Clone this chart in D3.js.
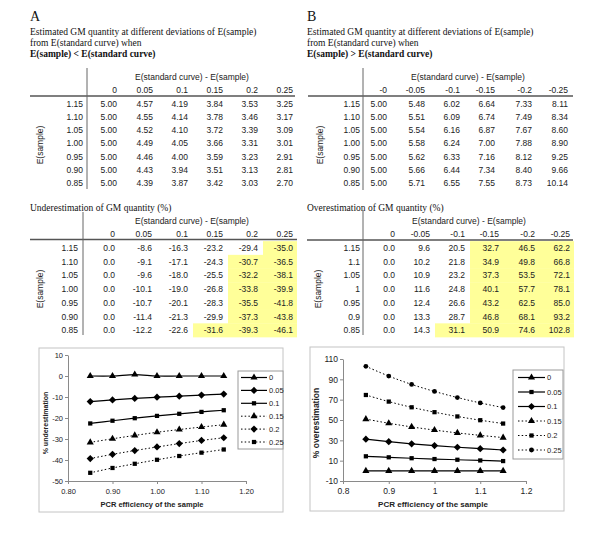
<!DOCTYPE html>
<html><head><meta charset="utf-8">
<script src="https://cdn.jsdelivr.net/npm/d3@7"></script>
<style>body{margin:0;background:#fff;} svg{display:block;}</style>
</head><body><svg id="c" width="600" height="534"></svg>
<script>
// ---------------- DATA ----------------
const rowLabelsA = ["1.15","1.10","1.05","1.00","0.95","0.90","0.85"];
const rowLabelsBOver = ["1.15","1.1","1.05","1","0.95","0.9","0.85"];
const colLabelsA = ["0","0.05","0.1","0.15","0.2","0.25"];
const colLabelsBQuant = ["-0","-0.05","-0.1","-0.15","-0.2","-0.25"];
const colLabelsBOver = ["0","-0.05","-0.1","-0.15","-0.2","-0.25"];
const legendLabels = ["0","0.05","0.1","0.15","0.2","0.25"];

const quantA = [
  [5.00,4.57,4.19,3.84,3.53,3.25],
  [5.00,4.55,4.14,3.78,3.46,3.17],
  [5.00,4.52,4.10,3.72,3.39,3.09],
  [5.00,4.49,4.05,3.66,3.31,3.01],
  [5.00,4.46,4.00,3.59,3.23,2.91],
  [5.00,4.43,3.94,3.51,3.13,2.81],
  [5.00,4.39,3.87,3.42,3.03,2.70]
];
const quantB = [
  [5.00,5.48,6.02,6.64,7.33,8.11],
  [5.00,5.51,6.09,6.74,7.49,8.34],
  [5.00,5.54,6.16,6.87,7.67,8.60],
  [5.00,5.58,6.24,7.00,7.88,8.90],
  [5.00,5.62,6.33,7.16,8.12,9.25],
  [5.00,5.66,6.44,7.34,8.40,9.66],
  [5.00,5.71,6.55,7.55,8.73,10.14]
];
const underA = [
  [0.0,-8.6,-16.3,-23.2,-29.4,-35.0],
  [0.0,-9.1,-17.1,-24.3,-30.7,-36.5],
  [0.0,-9.6,-18.0,-25.5,-32.2,-38.1],
  [0.0,-10.1,-19.0,-26.8,-33.8,-39.9],
  [0.0,-10.7,-20.1,-28.3,-35.5,-41.8],
  [0.0,-11.4,-21.3,-29.9,-37.3,-43.8],
  [0.0,-12.2,-22.6,-31.6,-39.3,-46.1]
];
const overB = [
  [0.0,9.6,20.5,32.7,46.5,62.2],
  [0.0,10.2,21.8,34.9,49.8,66.8],
  [0.0,10.9,23.2,37.3,53.5,72.1],
  [0.0,11.6,24.8,40.1,57.7,78.1],
  [0.0,12.4,26.6,43.2,62.5,85.0],
  [0.0,13.3,28.7,46.8,68.1,93.2],
  [0.0,14.3,31.1,50.9,74.6,102.8]
];
// zero-deviation line as plotted in chart A (small bump at 0.95)
const underZeroPlotted = [0,0,0,0,0.7,0,0];
const highlightThreshold = 30;
const yTicksA = [10,0,-10,-20,-30,-40,-50];
const xTicksA = [0.80,0.90,1.00,1.10,1.20];
const yTicksB = [110,90,70,50,30,10,-10];
const xTicksB = [0.8,0.9,1,1.1,1.2];

// ---------------- DRAW ----------------
const svg = d3.select("#c");
const SANS = "'Liberation Sans', Arial, sans-serif";
const SERIF = "'Liberation Serif', 'Times New Roman', serif";
const YELLOW = "#ffff99";

function serifText(x, y, txt, size, bold) {
  svg.append("text").attr("x", x).attr("y", y).attr("font-family", SERIF)
    .attr("font-size", size).attr("font-weight", bold ? "bold" : "normal")
    .attr("fill", "#111").text(txt);
}

function drawTable(cfg) {
  const g = svg.append("g");
  const rowY = i => cfg.rowY0 + i * cfg.rowStep;
  if (cfg.highlight) {
    cfg.values.forEach((row, i) => row.forEach((v, j) => {
      if (Math.abs(v) >= highlightThreshold) {
        const left = j === 0 ? cfg.colRight[0] - 30 : cfg.colRight[j - 1] + 5;
        const right = j === row.length - 1 ? cfg.colRight[j] + 4 : cfg.colRight[j] + 5;
        g.append("rect").attr("x", left).attr("y", rowY(i) - cfg.rowStep / 2)
          .attr("width", right - left).attr("height", cfg.rowStep + 0.3).attr("fill", YELLOW);
      }
    }));
  }
  const t = (x, y, s, anchor) => g.append("text").attr("x", x).attr("y", y)
    .attr("font-family", SANS).attr("font-size", 8.5).attr("fill", "#222")
    .attr("text-anchor", anchor).attr("dominant-baseline", "central").text(s);
  t(cfg.headX, cfg.headY, "E(standard curve) - E(sample)", "middle");
  cfg.cols.forEach((c, j) => t(cfg.colRight[j], cfg.colHeadY, c, "end"));
  cfg.rows.forEach((r, i) => t(cfg.labelRight, rowY(i), r, "end"));
  cfg.values.forEach((row, i) => row.forEach((v, j) =>
    t(cfg.colRight[j], rowY(i), v.toFixed(cfg.digits), "end")));
  g.append("line").attr("x1", cfg.lineX0).attr("x2", cfg.lineX1)
    .attr("y1", cfg.lineY).attr("y2", cfg.lineY).attr("stroke", "#555").attr("stroke-width", 1.3);
  g.append("line").attr("x1", cfg.vx).attr("x2", cfg.vx)
    .attr("y1", cfg.vy0).attr("y2", cfg.vy1).attr("stroke", "#666").attr("stroke-width", 1);
  g.append("text").attr("transform", `translate(${cfg.eX},${cfg.eY}) rotate(-90)`)
    .attr("font-family", SANS).attr("font-size", 8.5).attr("fill", "#222")
    .attr("text-anchor", "middle").attr("dominant-baseline", "central").text("E(sample)");
}

serifText(30, 21, "A", 14, false);
serifText(30, 35, "Estimated GM quantity at different deviations of E(sample)", 9.5);
serifText(30, 46, "from E(standard curve) when", 9.5);
serifText(30, 57, "E(sample) < E(standard curve)", 9.5, true);
serifText(307, 21, "B", 14, false);
serifText(307, 35, "Estimated GM quantity at different deviations of E(sample)", 9.5);
serifText(307, 46, "from E(standard curve) when", 9.5);
serifText(307, 57, "E(sample) > E(standard curve)", 9.5, true);
serifText(30, 211, "Underestimation of GM quantity (%)", 9.5);
serifText(307, 211, "Overestimation of GM quantity (%)", 9.5);

drawTable({values: quantA, rows: rowLabelsA, cols: colLabelsA, digits: 2,
  colRight: [117,153,188,223,258,293], rowY0: 104, rowStep: 13.15,
  headX: 192, headY: 77, colHeadY: 90, lineY: 96, lineX0: 30, lineX1: 295,
  vx: 87, vy0: 68, vy1: 189, labelRight: 83, eX: 40, eY: 145});
drawTable({values: quantB, rows: rowLabelsA, cols: colLabelsBQuant, digits: 2,
  colRight: [387,425,460,495,532,568], rowY0: 104, rowStep: 13.15,
  headX: 468, headY: 77, colHeadY: 90, lineY: 96, lineX0: 308, lineX1: 573,
  vx: 363, vy0: 68, vy1: 190, labelRight: 360, eX: 320, eY: 145});
drawTable({values: underA, rows: rowLabelsA, cols: colLabelsA, digits: 1, highlight: true,
  colRight: [115,152,188,223,258,293], rowY0: 248, rowStep: 13.7,
  headX: 192, headY: 221, colHeadY: 234, lineY: 239.5, lineX0: 30, lineX1: 297,
  vx: 83, vy0: 212, vy1: 335, labelRight: 78, eX: 40, eY: 289});
drawTable({values: overB, rows: rowLabelsBOver, cols: colLabelsBOver, digits: 1, highlight: true,
  colRight: [395,430,465,499,535,570], rowY0: 248, rowStep: 13.7,
  headX: 469, headY: 221, colHeadY: 234, lineY: 240, lineX0: 307, lineX1: 573,
  vx: 363, vy0: 210, vy1: 335, labelRight: 360, eX: 318, eY: 289});

// ---------------- CHARTS ----------------
const diamond = {draw(ctx, size) { const r = Math.sqrt(size / 2);
  ctx.moveTo(0, -r); ctx.lineTo(r, 0); ctx.lineTo(0, r); ctx.lineTo(-r, 0); ctx.closePath(); }};
const symMap = {triangle: d3.symbolTriangle, square: d3.symbolSquare, diamond: diamond, circle: d3.symbolCircle};
const symSize = {triangle: 22, square: 18, diamond: 26, circle: 18};

function drawChart(cfg) {
  const g = svg.append("g");
  g.append("rect").attr("x", cfg.box[0]).attr("y", cfg.box[1]).attr("width", cfg.box[2])
    .attr("height", cfg.box[3]).attr("fill", "#fff").attr("stroke", "#c4c4c4").attr("stroke-width", 1);
  const x = d3.scaleLinear().domain(cfg.xDomain).range(cfg.xRange);
  const y = d3.scaleLinear().domain(cfg.yDomain).range(cfg.yRange);
  const ya = g.append("g").attr("transform", `translate(${cfg.xRange[0]},0)`)
    .call(d3.axisLeft(y).tickValues(cfg.yTicks).tickFormat(d => String(d)).tickSize(3).tickSizeOuter(0).tickPadding(2));
  const xa = g.append("g").attr("transform", `translate(0,${cfg.yRange[0]})`)
    .call(d3.axisBottom(x).tickValues(cfg.xTicks).tickFormat(cfg.xFmt).tickSize(3).tickSizeOuter(0).tickPadding(cfg.xPad));
  [ya, xa].forEach(a => {
    a.selectAll("path,line").attr("stroke", "#8a8a8a");
    a.selectAll("text").attr("font-family", SANS).attr("font-size", cfg.tickFont).attr("fill", "#222");
  });
  g.append("text").attr("x", cfg.xTitle[0]).attr("y", cfg.xTitle[1]).attr("text-anchor", "middle")
    .attr("font-family", SANS).attr("font-size", cfg.titleFont).attr("font-weight", "bold")
    .attr("fill", "#222").text("PCR efficiency of the sample");
  g.append("text").attr("transform", `translate(${cfg.yTitle[0]},${cfg.yTitle[1]}) rotate(-90)`)
    .attr("text-anchor", "middle").attr("dominant-baseline", "central")
    .attr("font-family", SANS).attr("font-size", cfg.yTitleFont).attr("font-weight", "bold")
    .attr("fill", "#222").text(cfg.yLabel);

  const line = d3.line().x(d => x(d.e)).y(d => y(d.v)).curve(d3.curveCatmullRom.alpha(0.5));
  cfg.series.forEach((s, k) => {
    const pts = cfg.rows.map((r, i) => ({e: +r, v: s[i]})).sort((a, b) => a.e - b.e);
    g.append("path").attr("d", line(pts)).attr("fill", "none").attr("stroke", "#000")
      .attr("stroke-width", k < 3 ? 1.2 : 1)
      .attr("stroke-dasharray", k < 3 ? null : "1.5,2.2");
    const sym = d3.symbol().type(symMap[cfg.markers[k]]).size(symSize[cfg.markers[k]]);
    g.selectAll(null).data(pts).join("path").attr("d", sym)
      .attr("transform", d => `translate(${x(d.e)},${y(d.v)})`).attr("fill", "#000");
  });

  const L = cfg.legend;
  const lg = g.append("g");
  lg.append("rect").attr("x", L.x).attr("y", L.y).attr("width", L.w).attr("height", L.h)
    .attr("fill", "#fff").attr("stroke", "#9a9a9a").attr("stroke-width", 1);
  legendLabels.forEach((lab, k) => {
    const yy = L.y0 + k * L.step;
    lg.append("line").attr("x1", L.lx0).attr("x2", L.lx1).attr("y1", yy).attr("y2", yy)
      .attr("stroke", "#000").attr("stroke-width", k < 3 ? 1.2 : 1)
      .attr("stroke-dasharray", k < 3 ? null : "1.5,2.2");
    lg.append("path").attr("d", d3.symbol().type(symMap[cfg.markers[k]]).size(symSize[cfg.markers[k]]))
      .attr("transform", `translate(${(L.lx0 + L.lx1) / 2},${yy})`).attr("fill", "#000");
    lg.append("text").attr("x", L.tx).attr("y", yy).attr("dominant-baseline", "central")
      .attr("font-family", SANS).attr("font-size", L.font).attr("fill", "#222").text(lab);
  });
}

const seriesA = colLabelsA.map((c, j) => j === 0 ? underZeroPlotted : underA.map(r => r[j]));
const seriesB = colLabelsBOver.map((c, j) => overB.map(r => r[j]));

drawChart({box: [39, 348, 244, 164], xDomain: [0.8, 1.2], xRange: [68, 246],
  yDomain: [-50, 10], yRange: [481, 355], yTicks: yTicksA, xTicks: xTicksA,
  xFmt: d => d.toFixed(2), xPad: 5, tickFont: 7.5, titleFont: 7.5, yTitleFont: 7,
  xTitle: [152, 507], yTitle: [45, 423], yLabel: "% underestimation",
  rows: rowLabelsA, series: seriesA,
  markers: ["triangle","diamond","square","triangle","diamond","square"],
  legend: {x: 238, y: 371, w: 45, h: 78, y0: 377.5, step: 12.9, lx0: 241, lx1: 267, tx: 269, font: 7.5}});

drawChart({box: [310, 347, 254, 164], xDomain: [0.8, 1.2], xRange: [343, 526],
  yDomain: [-10, 110], yRange: [481, 359], yTicks: yTicksB, xTicks: xTicksB,
  xFmt: d => String(d), xPad: 4, tickFont: 8.5, titleFont: 8, yTitleFont: 8.5,
  xTitle: [433, 507], yTitle: [316, 423], yLabel: "% overestimation",
  rows: rowLabelsBOver, series: seriesB,
  markers: ["triangle","square","diamond","triangle","square","circle"],
  legend: {x: 513, y: 370, w: 50, h: 89, y0: 377.5, step: 14.5, lx0: 518, lx1: 545, tx: 547, font: 7.5}});
</script></body></html>
